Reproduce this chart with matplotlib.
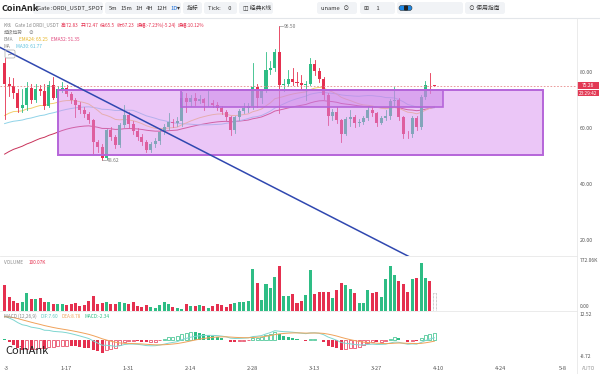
import matplotlib
matplotlib.use("Agg")
import matplotlib.pyplot as plt
from matplotlib.patches import Rectangle, FancyBboxPatch

plt.rcParams['font.family'] = ['Noto Sans CJK SC', 'DejaVu Sans']

# daily candles, 2024-01-03 .. 2024-04-09
opens = [83.3, 75.7, 75.0, 72.5, 67.1, 68.5, 74.3, 70.0, 74.0, 73.2,
         68.0, 75.5, 71.0, 74.0, 74.3, 72.2, 70.1, 68.3, 66.5, 65.0,
         62.9, 55.1, 53.2, 49.5, 59.3, 56.8, 53.9, 61.1, 64.8, 61.5,
         59.0, 57.0, 55.0, 52.4, 54.3, 55.3, 58.6, 60.5, 62.2, 61.8,
         62.5, 70.8, 69.5, 70.7, 69.8, 70.3, 68.9, 69.1, 68.5, 67.4,
         65.9, 64.1, 59.3, 64.0, 66.2, 67.4, 67.9, 74.9, 71.0, 73.5,
         80.9, 81.7, 87.2, 75.5, 76.0, 77.5, 76.7, 76.1, 75.5, 75.9,
         83.0, 80.5, 77.5, 72.0, 64.3, 65.9, 63.0, 58.1, 63.4, 64.0,
         62.0, 62.4, 63.8, 66.7, 65.4, 61.9, 63.8, 64.3, 69.8, 70.2,
         64.0, 58.1, 57.8, 63.8, 60.5, 71.3, 75.5, 75.3]
highs = [85.0, 78.5, 78.0, 74.0, 74.0, 76.5, 76.0, 76.0, 75.5, 76.0,
         77.0, 78.5, 75.0, 76.7, 75.5, 73.0, 71.0, 69.5, 67.5, 66.0,
         63.5, 56.0, 54.5, 59.8, 60.5, 57.5, 62.0, 68.5, 66.0, 62.5,
         60.0, 58.0, 56.0, 55.0, 56.5, 59.5, 61.5, 65.4, 63.5, 64.0,
         73.0, 72.5, 72.0, 72.5, 72.0, 71.0, 73.4, 70.0, 69.5, 68.0,
         66.5, 64.5, 64.5, 67.0, 69.0, 69.0, 83.3, 76.0, 74.0, 87.4,
         84.0, 88.5, 96.5, 77.5, 81.0, 81.5, 80.0, 79.0, 77.0, 85.2,
         84.5, 81.5, 78.5, 72.5, 67.0, 67.5, 63.5, 64.0, 66.5, 64.8,
         63.5, 64.5, 67.5, 68.0, 66.0, 64.5, 66.5, 70.5, 74.9, 70.8,
         64.5, 59.0, 64.5, 64.5, 72.0, 77.0, 79.7, 75.6]
lows = [63.5, 71.5, 71.0, 65.9, 66.0, 66.5, 69.0, 69.5, 72.0, 67.0,
        67.5, 70.5, 70.5, 73.0, 71.5, 69.0, 64.0, 65.5, 64.0, 61.8,
        51.0, 51.5, 48.62, 49.0, 56.0, 53.0, 53.5, 60.5, 60.0, 58.0,
        56.0, 54.0, 51.5, 51.5, 53.5, 54.5, 58.0, 59.5, 60.5, 60.8,
        61.0, 66.0, 68.0, 68.5, 69.0, 66.5, 68.0, 67.5, 66.5, 65.0,
        63.0, 57.5, 58.5, 63.0, 65.5, 66.0, 67.0, 67.5, 69.0, 73.0,
        79.5, 80.5, 65.4, 73.5, 75.0, 75.5, 75.0, 74.0, 70.1, 75.5,
        79.0, 76.5, 70.5, 61.1, 63.0, 62.0, 55.1, 57.5, 61.0, 60.5,
        61.0, 61.5, 63.0, 64.5, 61.0, 61.5, 63.0, 63.5, 68.0, 63.0,
        56.5, 56.5, 57.0, 59.5, 59.8, 70.5, 72.6, 75.0]
closes = [75.7, 75.0, 72.5, 67.1, 68.5, 74.3, 70.0, 74.0, 73.2, 68.0,
          75.5, 71.0, 74.0, 74.3, 72.2, 70.1, 68.3, 66.5, 65.0, 62.9,
          55.1, 53.2, 49.5, 59.3, 56.8, 53.9, 61.1, 64.8, 61.5, 59.0,
          57.0, 55.0, 52.4, 54.3, 55.3, 58.6, 60.5, 62.2, 61.8, 62.5,
          70.8, 69.5, 70.7, 69.8, 70.3, 68.9, 69.1, 68.5, 67.4, 65.9,
          64.1, 59.3, 64.0, 66.2, 67.4, 67.9, 74.9, 71.0, 73.5, 80.9,
          81.7, 87.2, 75.5, 76.0, 77.5, 76.7, 76.1, 75.5, 75.9, 83.0,
          80.5, 77.5, 72.0, 64.3, 65.9, 63.0, 58.1, 63.4, 64.0, 62.0,
          62.4, 63.8, 66.7, 65.4, 61.9, 63.8, 64.3, 69.8, 70.2, 64.0,
          58.1, 57.8, 63.8, 60.5, 71.3, 75.5, 75.3, 75.26]
# volume in K
volume = [402, 225, 161, 129, 145, 289, 188, 188, 198, 145,
          145, 107, 118, 118, 91, 107, 129, 75, 91, 161,
          236, 107, 129, 145, 118, 107, 134, 129, 118, 134,
          75, 64, 91, 64, 54, 91, 134, 118, 70, 54,
          38, 118, 86, 86, 102, 80, 54, 75, 107, 91,
          64, 118, 129, 145, 145, 161, 654, 440, 172, 429,
          359, 536, 708, 236, 236, 268, 129, 161, 252, 643,
          268, 295, 295, 295, 198, 332, 440, 402, 348, 289,
          129, 129, 332, 289, 306, 225, 509, 708, 574, 466,
          423, 306, 504, 520, 750, 520, 466, 289]

date_ticks = [0, 14, 28, 42, 56, 70, 84, 98, 112, 126]
date_labels = ["-3", "1-17", "1-31", "2-14", "2-28", "3-13", "3-27", "4-10", "4-24", "5-8"]
price_ticks = [80, 60, 40, 20]

last_price = 75.26
box_outer = (12.05, 121.5, 50.3, 73.7)   # x0, x1, low, high
box_inner = (39.8, 99.0, 67.7, 73.7)
trend = ([-1.04, 92.0], [88.9, 13.6])

ema24_seed, ema52_seed, ma30_seed = 63.6, 49.8, 61.2
ema12_seed, ema26_seed, dea_seed = 75.0, 62.5, 11.3

GREEN = '#2ebd85'
RED = '#e5304f'
W, H = 600, 374
XL = (-1.04, 129.2)


def ema(vals, n, seed):
    a = 2.0 / (n + 1)
    v = seed
    out = []
    for c in vals:
        v = v + a * (c - v)
        out.append(v)
    return out


n = len(closes)
xs = list(range(n))
ema24 = ema(closes, 24, ema24_seed)
ema52 = ema(closes, 52, ema52_seed)
ma30 = []
for i in range(n):
    win = closes[max(0, i - 29):i + 1]
    ma30.append((sum(win) + ma30_seed * (30 - len(win))) / 30)
dif = [a - b for a, b in zip(ema(closes, 12, ema12_seed), ema(closes, 26, ema26_seed))]
dea = ema(dif, 9, dea_seed)
hist = [2 * (a - b) for a, b in zip(dif, dea)]

fig = plt.figure(figsize=(6, 3.74), dpi=100)
fig.patch.set_facecolor('white')


def px_rect(x0, y0, x1, y1):
    return [x0 / W, 1 - y1 / H, (x1 - x0) / W, (y1 - y0) / H]


axp = fig.add_axes(px_rect(0, 19, 577, 256))
axv = fig.add_axes(px_rect(0, 256, 577, 311))
axm = fig.add_axes(px_rect(0, 311, 577, 362))
for a in (axp, axv, axm):
    a.set_xlim(*XL)
    a.axis('off')
axp.set_ylim(14.39, 99.04)
axv.set_ylim(0, 866.6)
axm.set_ylim(-11.0, 14.2)

# candles
cols = []
for i in xs:
    up = closes[i] >= opens[i]
    c = GREEN if up else RED
    cols.append(c)
    axp.plot([i, i], [lows[i], highs[i]], color=c, lw=0.6, zorder=3)
    lo, hi = min(opens[i], closes[i]), max(opens[i], closes[i])
    axp.add_patch(Rectangle((i - 0.34, lo), 0.68, max(hi - lo, 0.25), fc=c, ec='none', zorder=3))

axp.plot(xs, ema52, color='#c8325a', lw=0.7, zorder=2)
axp.plot(xs, ma30, color='#8fd3e8', lw=0.7, zorder=2)
axp.plot(xs, ema24, color='#f3cf6e', lw=0.7, zorder=2)

# boxes
bx0, bx1, blo, bhi = box_outer
axp.add_patch(Rectangle((bx0, blo), bx1 - bx0, bhi - blo, fc='#d98ef0', alpha=0.5, ec='none', zorder=4))
axp.add_patch(Rectangle((bx0, blo), bx1 - bx0, bhi - blo, fc='none', ec='#b565d9', lw=1.4, zorder=5))
ix0, ix1, ilo, ihi = box_inner
axp.add_patch(Rectangle((ix0, ilo), ix1 - ix0, ihi - ilo, fc='#c77ee6', alpha=0.45, ec='none', zorder=4))
axp.add_patch(Rectangle((ix0, ilo), ix1 - ix0, ihi - ilo, fc='none', ec='#b565d9', lw=1.2, zorder=5))

axp.axhline(last_price, color='#e88a8a', lw=0.6, ls=(0, (2, 2)), zorder=6)
axp.plot(trend[0], trend[1], color='#3048b0', lw=1.1, zorder=7, clip_on=True)

hi_i = highs.index(max(highs))
lo_i = lows.index(min(lows))
axp.plot([hi_i, hi_i + 0.9], [max(highs)] * 2, color='#999', lw=0.5, zorder=7)
axp.text(hi_i + 1.0, max(highs), "%.2f" % max(highs), fontsize=3.6, color='#777', va='center', zorder=7)
axp.plot([lo_i, lo_i + 0.9], [min(lows)] * 2, color='#999', lw=0.5, zorder=7)
axp.text(lo_i + 1.0, min(lows), "%.2f" % min(lows), fontsize=3.6, color='#777', va='center', zorder=7)

# volume
for i in xs:
    if i == n - 1:
        axv.add_patch(Rectangle((i - 0.34, 0), 0.68, volume[i], fc='none', ec='#999', lw=0.5, ls=(0, (1, 1))))
    else:
        axv.add_patch(Rectangle((i - 0.34, 0), 0.68, volume[i], fc=cols[i], ec='none'))

# macd
for i in xs:
    h = hist[i]
    prev = hist[i - 1] if i > 0 else h
    c = GREEN if h >= 0 else RED
    if h > prev:
        axm.add_patch(Rectangle((i - 0.34, 0), 0.68, h, fc='white', ec=c, lw=0.5))
    else:
        axm.add_patch(Rectangle((i - 0.34, 0), 0.68, h, fc=c, ec='none'))
axm.plot(xs, dif, color='#7fd6d0', lw=0.7)
axm.plot(xs, dea, color='#f0a25a', lw=0.7)

# overlay in pixel coordinates
ov = fig.add_axes([0, 0, 1, 1], zorder=10)
ov.set_xlim(0, W)
ov.set_ylim(H, 0)
ov.axis('off')
ov.patch.set_alpha(0)
renderer = fig.canvas.get_renderer()


def runs(x, y, parts, size=3.4, gap=2.2):
    # ink widths ignore trailing spaces, so the gap is added by hand
    for s, c in parts:
        t = ov.text(x, y, s.strip(), color=c, fontsize=size, va='center', ha='left')
        x += t.get_window_extent(renderer=renderer).width
        if s.endswith(' '):
            x += gap * (len(s) - len(s.rstrip()))
    return x


def pill(x0, x1, y0=2, y1=14):
    ov.add_patch(FancyBboxPatch((x0, y0), x1 - x0, y1 - y0, boxstyle='round,pad=0,rounding_size=2.5',
                                fc='#f1f3f6', ec='none'))


ov.text(2, 8, "CoinAnk", fontsize=6.5, fontweight='bold', color='#222', va='center')
for x0, x1, label in [(33, 103, "Gate :ORDI_USDT_SPOT"), (183, 202, "指标"),
                      (204, 237, "Tick:      0"), (239, 273, "◫ 经典K线"),
                      (317, 357, "uname   ⊙"), (360, 395, "⊞      1"), (465, 505, "⊙ 使用指南")]:
    pill(x0, x1)
    ov.text(x0 + 4, 8, label, fontsize=4.2, color='#333', va='center')
pill(105, 181)
runs(109, 8, [("5m ", '#333'), ("15m ", '#333'), ("1H ", '#333'), ("4H ", '#333'), ("12H ", '#333'),
              ("1D", '#1e6fd9'), ("▾", '#333')], size=4.2, gap=3.0)
pill(397, 463)
ov.add_patch(FancyBboxPatch((399, 5.5), 13, 5, boxstyle='round,pad=0,rounding_size=2.5', fc='#1e88e5', ec='#333', lw=0.4))
ov.add_patch(FancyBboxPatch((404, 5.5), 4, 5, boxstyle='round,pad=0,rounding_size=1', fc='#222', ec='none'))

ov.plot([0, W], [17.5, 17.5], color='#e3e6ea', lw=0.8)
ov.plot([577, 577], [17.5, H], color='#e8e8e8', lw=0.6)
ov.plot([0, 577], [256, 256], color='#e8e8e8', lw=0.6)
ov.plot([0, 577], [311, 311], color='#e8e8e8', lw=0.6)

GREY = '#888'
runs(4, 25, [("K线  ", GREY), ("Gate 1d ORDI_USDT ", GREY), ("高:72.83 ", RED), ("开:72.47 ", RED),
             ("低:65.5 ", RED), ("收:67.23 ", RED), ("振幅:-7.23%(-5.24) ", RED), ("振幅:10.12%", RED)], gap=1.8)
runs(4, 32.5, [("超级趋势   ", GREY), ("⊘", GREY)], gap=1.8)
runs(4, 39.5, [("EMA   ", GREY), ("EMA24: 65.25  ", '#e6b422'), ("EMA52: 51.35", '#e0447a')], gap=1.8)
runs(4, 46.5, [("MA   ", GREY), ("MA30: 61.77", '#5bc0de')], gap=1.8)
ov.add_patch(FancyBboxPatch((5, 50), 10, 8, boxstyle='round,pad=0,rounding_size=1.5', fc='none', ec='#aaa', lw=0.5))
ov.text(10, 54, "⌐", fontsize=3.5, color='#888', ha='center', va='center')

runs(4, 262, [("VOLUME   ", GREY), ("100.07K", RED)], gap=1.8)
runs(4, 316.5, [("MACD (12,26,9)  ", GREY), ("DIF:7.60  ", '#5cc8c0'), ("DEA:8.78  ", '#f0a25a'),
                ("MACD:-2.34", GREEN)], gap=1.8)
ov.text(5, 351, "CoinAnk", fontsize=8, color='#222', va='center')


def price_y(p):
    return 128.3 - (p - 60) * 2.8


for p in price_ticks:
    ov.text(580, price_y(p), "%.2f" % p, fontsize=3.8, color='#555', va='center')
ly = price_y(last_price)
ov.add_patch(Rectangle((577, ly - 3.2), 22, 6.4, fc='#e23a55', ec='none'))
ov.text(588, ly, "%.2f" % last_price, fontsize=3.6, color='white', ha='center', va='center')
ov.add_patch(Rectangle((577, ly + 4.3), 22, 6.4, fc='#e23a55', ec='none'))
ov.text(588, ly + 7.5, "23:29:42", fontsize=3.4, color='white', ha='center', va='center')

ov.text(580, 260.5, "772.06K", fontsize=3.6, color='#555', va='center')
ov.text(580, 306, "0.00", fontsize=3.6, color='#555', va='center')
ov.text(580, 314.5, "12.52", fontsize=3.6, color='#555', va='center')
ov.text(580, 357, "-8.72", fontsize=3.6, color='#555', va='center')

for t, lab in zip(date_ticks, date_labels):
    xp = 4.6 + 4.43 * t
    if t == 0:
        xp += 1.5
    ov.text(xp, 368, lab, fontsize=4.0, color='#555', ha='center', va='center')
ov.text(582, 368, "AUTO", fontsize=3.6, color='#999', va='center')

fig.savefig("out.png", dpi=100, facecolor='white')
